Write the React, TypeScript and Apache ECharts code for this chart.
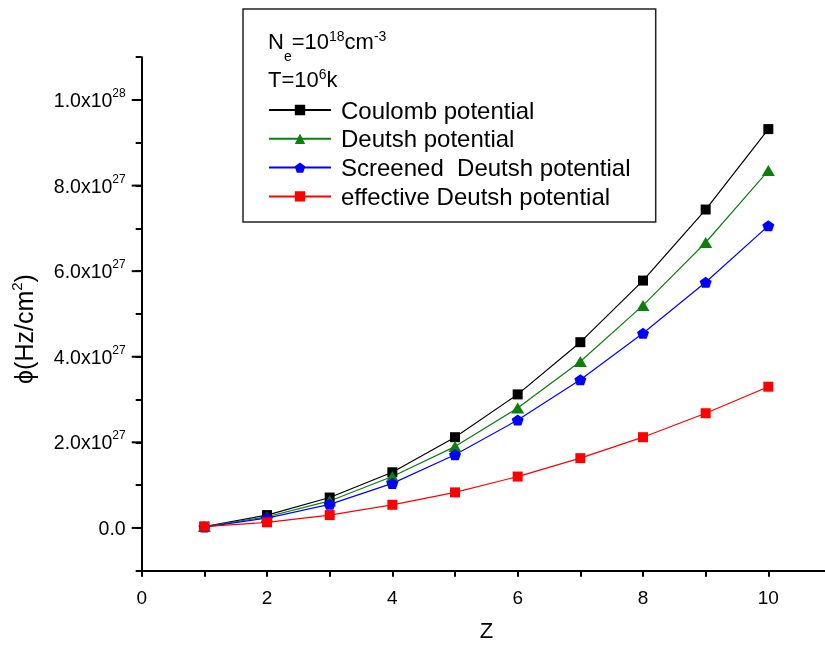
import React, { useEffect, useRef } from "react";
import * as echarts from "echarts";

const Z = [1, 2, 3, 4, 5, 6, 7, 8, 9, 10];
// values in units of 1e27 Hz/cm^2
const coulomb = [0.03, 0.3, 0.71, 1.3, 2.12, 3.12, 4.34, 5.78, 7.44, 9.32];
const deutsh = [0.03, 0.26, 0.63, 1.2, 1.9, 2.8, 3.89, 5.2, 6.67, 8.35];
const screened = [0.02, 0.23, 0.55, 1.04, 1.71, 2.52, 3.46, 4.55, 5.74, 7.06];
const effective = [0.03, 0.13, 0.3, 0.54, 0.83, 1.2, 1.63, 2.12, 2.68, 3.3];
const UNIT = 1e27;

const seriesNames = [
  "Coulomb potential",
  "Deutsh potential",
  "Screened  Deutsh potential",
  "effective Deutsh potential",
];
const yMajorTicks = [0, 2, 4, 6, 8, 10]; // x1e27, labelled ticks
const X_MIN = 0;
const X_MAX = 11;
const Y_MIN = -1;
const Y_MAX = 11;

const FONT = "'Liberation Sans', Arial, Helvetica, sans-serif";
const pentagon =
  "path://M0,-10 L9.511,-3.09 L5.878,8.09 L-5.878,8.09 L-9.511,-3.09 Z";

function fmtY(v: number): string {
  const u = Math.round(v);
  if (u % 2 !== 0 || u < 0) return "";
  if (u === 0) return "{b|0.0}";
  const real = u * UNIT;
  const e = Math.floor(Math.log10(real) + 1e-9);
  const m = real / Math.pow(10, e);
  return "{b|" + m.toFixed(1) + "x10}{sup|" + e + "}";
}
function fmtX(v: number): string {
  return Math.round(v) % 2 === 0 && v <= 10 ? String(Math.round(v)) : "";
}

export default function App() {
  const ref = useRef<HTMLDivElement>(null);
  useEffect(() => {
    if (!ref.current) return;
    const chart = echarts.init(ref.current, undefined, { renderer: "svg" });
    const toPairs = (arr: number[]) => Z.map((z, i) => [z, arr[i]]);
    const mk = (
      name: string,
      arr: number[],
      color: string,
      symbol: string,
      size: number | number[]
    ) => ({
      name,
      type: "line",
      data: toPairs(arr),
      symbol,
      symbolSize: size,
      showSymbol: true,
      lineStyle: { color, width: 1.2 },
      itemStyle: { color },
      z: 3,
    });
    const option: any = {
      animation: false,
      grid: { left: 141.7, top: 57.2, width: 689.3, bottom: 75.3, outerBoundsMode: "none" },
      legend: {
        orient: "vertical",
        left: 268,
        top: 98,
        itemWidth: 62,
        itemHeight: 13,
        itemGap: 4.8,
        padding: 0,
        data: seriesNames,
        textStyle: {
          fontSize: 24,
          lineHeight: 24,
          color: "#000",
          fontFamily: FONT,
          padding: [0, 0, 0, 5],
        },
        selectedMode: false,
      },
      xAxis: {
        type: "value",
        min: X_MIN,
        max: X_MAX,
        interval: 1,
        name: "Z",
        nameLocation: "middle",
        nameGap: 49,
        nameTextStyle: { fontSize: 22, color: "#000", fontFamily: FONT },
        axisLine: { show: true, onZero: false, lineStyle: { color: "#000", width: 2 } },
        axisTick: { show: true, length: 6, lineStyle: { color: "#000", width: 2 } },
        axisLabel: {
          formatter: fmtX,
          margin: 17,
          fontSize: 19,
          color: "#000",
          fontFamily: FONT,
        },
        splitLine: { show: false },
      },
      yAxis: {
        type: "value",
        min: Y_MIN,
        max: Y_MAX,
        interval: 1,
        axisLine: { show: true, onZero: false, lineStyle: { color: "#000", width: 2 } },
        axisTick: { show: true, length: 6, lineStyle: { color: "#000", width: 2 } },
        axisLabel: {
          margin: 16,
          formatter: fmtY,
          color: "#000",
          fontFamily: FONT,
          rich: {
            b: { fontSize: 19.5, lineHeight: 22, verticalAlign: "middle", color: "#000", fontFamily: FONT },
            sup: {
              fontSize: 12,
              lineHeight: 12,
              padding: [0, 0, 14, 0],
              verticalAlign: "middle",
              color: "#000",
              fontFamily: FONT,
            },
          },
        },
        splitLine: { show: false },
      },
      series: [
        mk(seriesNames[0], coulomb, "#000000", "rect", 10),
        mk(seriesNames[1], deutsh, "#0a800a", "triangle", [13, 11]),
        mk(seriesNames[2], screened, "#0000ff", pentagon, [12, 11]),
        mk(seriesNames[3], effective, "#ff0000", "rect", 10),
        {
          type: "custom",
          clip: false,
          z: 4,
          data: yMajorTicks.map((v) => [X_MIN, v]),
          renderItem: (params: any, api: any) => {
            const p = api.coord([api.value(0), api.value(1)]);
            return {
              type: "line",
              shape: { x1: p[0], y1: p[1], x2: p[0] - 10, y2: p[1] },
              style: { stroke: "#000", lineWidth: 2 },
            };
          },
        },
      ],
      graphic: [
        {
          type: "rect",
          shape: { x: 243, y: 9, width: 412.7, height: 213 },
          style: { fill: "#fff", stroke: "#222", lineWidth: 1.5 },
        },
        {
          type: "text",
          x: 268,
          y: 41.5,
          style: {
            text: "{b|N}{sub|e}{b|=10}{sup|18}{b|cm}{sup|-3}",
            verticalAlign: "middle",
            align: "left",
            rich: {
              b: { fontSize: 22, lineHeight: 22, fontFamily: FONT, fill: "#000", verticalAlign: "middle" },
              sub: { fontSize: 14, lineHeight: 14, padding: [29, 0, 0, 0], fontFamily: FONT, fill: "#000", verticalAlign: "middle" },
              sup: { fontSize: 14, lineHeight: 14, padding: [0, 0, 12, 0], fontFamily: FONT, fill: "#000", verticalAlign: "middle" },
            },
          },
        },
        {
          type: "text",
          x: 268,
          y: 79.5,
          style: {
            text: "{b|T=10}{sup|6}{b|k}",
            verticalAlign: "middle",
            align: "left",
            rich: {
              b: { fontSize: 22, lineHeight: 22, fontFamily: FONT, fill: "#000", verticalAlign: "middle" },
              sup: { fontSize: 14, lineHeight: 14, padding: [0, 0, 12, 0], fontFamily: FONT, fill: "#000", verticalAlign: "middle" },
            },
          },
        },
        {
          type: "text",
          x: 24,
          y: 329,
          rotation: Math.PI / 2,
          style: {
            text: "{b|\u03D5(Hz/cm}{sup|2}{b|)}",
            verticalAlign: "middle",
            align: "center",
            rich: {
              b: { fontSize: 25, lineHeight: 25, fontFamily: FONT, fill: "#000", verticalAlign: "middle" },
              sup: { fontSize: 15, lineHeight: 15, padding: [0, 0, 15, 0], fontFamily: FONT, fill: "#000", verticalAlign: "middle" },
            },
          },
        },
      ],
    };
    chart.setOption(option);
    return () => chart.dispose();
  }, []);
  return <div ref={ref} style={{ position: "fixed", left: 0, top: 0, width: 825, height: 646 }} />;
}
